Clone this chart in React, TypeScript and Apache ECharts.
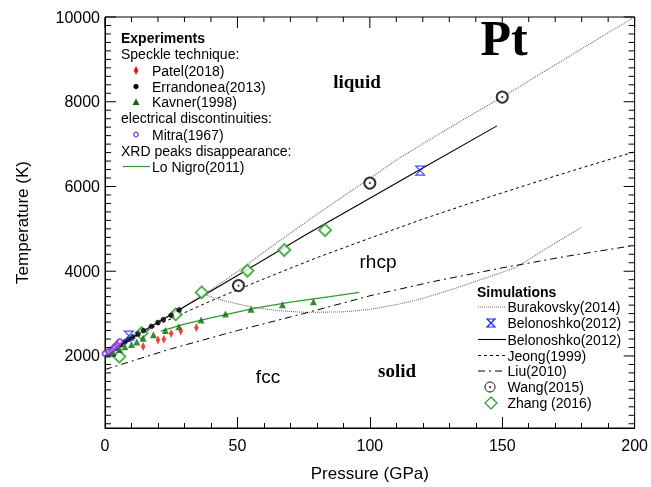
import React, { useEffect, useRef } from "react";
import * as echarts from "echarts";

// ---------- data (pressure GPa, temperature K) ----------
const BURAK_LIQ_P = [0, 10, 20, 30, 40, 50, 60, 70, 80, 90, 100, 110, 120, 130, 140, 150, 160, 170, 180, 190, 200];
const BURAK_LIQ_T = [2050, 2420, 2800, 3170, 3560, 3990, 4450, 4900, 5340, 5770, 6190, 6620, 7010, 7380, 7750, 8110, 8490, 8870, 9250, 9630, 10000];
const BURAK_SOL_P = [36.3, 45, 55, 65, 75.8, 90, 100, 111, 120, 130, 140, 155, 167, 180];
const BURAK_SOL_T = [3474, 3300, 3160, 3070, 3030, 3040, 3100, 3223, 3360, 3550, 3760, 4082, 4550, 5041];
const BELON_LINE_P = [0, 25, 50, 75, 100, 119, 148];
const BELON_LINE_T = [2050, 2980, 3900, 4830, 5720, 6400, 7430];
const JEONG_P = [0, 20, 40, 60, 80, 100, 120, 140, 160, 180, 200];
const JEONG_T = [2040, 2740, 3300, 3820, 4320, 4780, 5230, 5650, 6050, 6440, 6820];
const LIU_P = [0, 25, 50, 75, 100, 125, 150, 175, 200];
const LIU_T = [1680, 2170, 2600, 3000, 3420, 3770, 4080, 4360, 4610];
const LONIGRO_P = [21, 30, 40, 55, 70, 85, 96];
const LONIGRO_T = [2585, 2750, 2900, 3107, 3270, 3400, 3500];

const PATEL_P = [14.4, 20, 22.2, 25, 28.6, 34.5];
const PATEL_T = [2222, 2379, 2393, 2533, 2589, 2666];
const ERRAN_P = [2, 4, 6, 7.5, 9, 10.5, 12.5, 14.5, 17.5, 20, 22, 25, 28];
const ERRAN_T = [2100, 2180, 2260, 2330, 2390, 2450, 2520, 2600, 2700, 2790, 2860, 2960, 3090];
const KAVNER_P = [1, 3, 5.5, 7.5, 10, 12, 14.4, 18.3, 22.8, 27.9, 36.3, 45.5, 55.1, 67, 78.7];
const KAVNER_T = [2040, 2090, 2150, 2220, 2270, 2330, 2420, 2500, 2600, 2690, 2850, 2990, 3100, 3210, 3280];
const MITRA_P = [0, 1.5, 2.5, 3.2, 3.8, 4.5, 5, 5.6];
const MITRA_T = [2060, 2110, 2145, 2180, 2220, 2260, 2300, 2340];
const BELON_PTS_P = [9, 119];
const BELON_PTS_T = [2480, 6374];
const WANG_P = [50.4, 100, 150];
const WANG_T = [3661, 6080, 8110];
const ZHANG_P = [5.4, 13.8, 26.7, 36.5, 53.8, 67.7, 83.1];
const ZHANG_T = [1985, 2540, 2980, 3500, 4010, 4500, 4970];

const X_MIN = 0, X_MAX = 200, X_INTERVAL = 50, X_MINOR = 10;
const Y_MIN = 300, Y_MAX = 10000, Y_MAJOR = 2000, Y_MINOR = 200;

const EXP_LEGEND = ["Patel(2018)", "Errandonea(2013)", "Kavner(1998)", "Mitra(1967)", "Lo Nigro(2011)"];
const SIM_LEGEND = ["Burakovsky(2014)", "Belonoshko(2012)", "Belonoshko(2012)", "Jeong(1999)", "Liu(2010)", "Wang(2015)", "Zhang (2016)"];

const zip = (a: number[], b: number[]) => a.map((v, i) => [v, b[i]]);

const C_BURAK = "#86645d";
const C_GREEN_LINE = "#2a9d2a";
const C_KAVNER = "#0a6a0a";
const C_ZHANG = "#22a022";
const C_MITRA = "#7a2fd8";
const C_PATEL = "#ee1111";
const C_BLUE = "#1a1aff";
const SANS = "Liberation Sans, Arial, Helvetica, sans-serif";
const SERIF = "Liberation Serif, Times New Roman, serif";
const HOURGLASS = "path://M0,0L10,0L0,10L10,10Z";

export default function App() {
  const ref = useRef<HTMLDivElement>(null);
  useEffect(() => {
    if (!ref.current) return;
    const chart = echarts.init(ref.current, null, { renderer: "svg" });

    // tick positions (axis decoration)
    const yTicks: number[][] = [];
    for (let v = 400; v <= Y_MAX; v += Y_MINOR) yTicks.push([X_MIN, v, v % Y_MAJOR === 0 ? 1 : 0]);
    const xTicks: number[][] = [];
    for (let v = X_MIN; v <= X_MAX; v += X_MINOR) xTicks.push([v, Y_MAX, v % X_INTERVAL === 0 ? 1 : 0]);

    const txt = (x: number, y: number, s: string, extra: any = {}) => ({
      type: "text",
      x,
      y,
      style: { text: s, fill: "#000", font: `14px ${SANS}`, textVerticalAlign: "middle", textAlign: "left", ...extra },
      z: 100,
    });
    const hline = (x1: number, x2: number, y: number, stroke: string, dash: any = null, w = 1) => ({
      type: "line",
      shape: { x1, y1: y, x2, y2: y },
      style: { stroke, lineWidth: w, lineDash: dash },
      z: 100,
    });

    const lx = 121, ex = 152, sx = 136;
    const ly = [38, 54, 70.5, 86.5, 102, 118, 134.5, 150.5, 166.5];
    const graphics: any[] = [
      txt(lx, ly[0], "Experiments", { font: `bold 14px ${SANS}` }),
      txt(lx, ly[1], "Speckle technique:"),
      { type: "polygon", shape: { points: [[sx, ly[2] - 4.5], [sx + 2.3, ly[2]], [sx, ly[2] + 4.5], [sx - 2.3, ly[2]]] }, style: { fill: C_PATEL }, z: 100 },
      txt(ex, ly[2], EXP_LEGEND[0]),
      { type: "circle", shape: { cx: sx, cy: ly[3], r: 2.7 }, style: { fill: "#000" }, z: 100 },
      txt(ex, ly[3], EXP_LEGEND[1]),
      { type: "polygon", shape: { points: [[sx, ly[4] - 3.5], [sx + 3.5, ly[4] + 3], [sx - 3.5, ly[4] + 3]] }, style: { fill: C_KAVNER }, z: 100 },
      txt(ex, ly[4], EXP_LEGEND[2]),
      txt(lx, ly[5], "electrical discontinuities:"),
      { type: "circle", shape: { cx: sx, cy: ly[6], r: 2.3 }, style: { fill: "#fff", stroke: C_MITRA, lineWidth: 1.2 }, z: 100 },
      txt(ex, ly[6], EXP_LEGEND[3]),
      txt(lx, ly[7], "XRD peaks disappearance:"),
      hline(123, 150, ly[8], C_GREEN_LINE, null, 1.2),
      txt(ex, ly[8], EXP_LEGEND[4]),
    ];

    const rx = 477, rtx = 507.5, rsx = 491;
    const ry = [291.5, 307, 323, 339.5, 355.5, 371, 387, 403];
    graphics.push(
      txt(rx, ry[0], "Simulations", { font: `bold 14px ${SANS}` }),
      hline(478, 506, ry[1], C_BURAK, [1, 1], 1),
      txt(rtx, ry[1], SIM_LEGEND[0]),
      { type: "polygon", shape: { points: [[rsx - 4, ry[2] - 4], [rsx + 4, ry[2] - 4], [rsx - 4, ry[2] + 4], [rsx + 4, ry[2] + 4]] }, style: { fill: "none", stroke: C_BLUE, lineWidth: 1.2 }, z: 100 },
      txt(rtx, ry[2], SIM_LEGEND[1]),
      hline(478, 506, ry[3], "#000", null, 1.1),
      txt(rtx, ry[3], SIM_LEGEND[2]),
      hline(478, 506, ry[4], "#000", [3, 3], 1),
      txt(rtx, ry[4], SIM_LEGEND[3]),
      hline(478, 506, ry[5], "#000", [7, 4, 2, 4], 1),
      txt(rtx, ry[5], SIM_LEGEND[4]),
      { type: "circle", shape: { cx: rsx - 1, cy: ry[6], r: 5 }, style: { fill: "#fff", stroke: "#000", lineWidth: 1 }, z: 100 },
      { type: "circle", shape: { cx: rsx - 1, cy: ry[6], r: 0.9 }, style: { fill: "#000" }, z: 101 },
      txt(rtx, ry[6], SIM_LEGEND[5]),
      { type: "polygon", shape: { points: [[rsx, ry[7] - 6], [rsx + 6, ry[7]], [rsx, ry[7] + 6], [rsx - 6, ry[7]]] }, style: { fill: "none", stroke: C_ZHANG, lineWidth: 1.2 }, z: 100 },
      txt(rtx, ry[7], SIM_LEGEND[6]),
      txt(504, 38, "Pt", { font: `bold 50px ${SERIF}`, textAlign: "center" }),
      txt(357, 81.5, "liquid", { font: `bold 19px ${SERIF}`, textAlign: "center" }),
      txt(378, 261.5, "rhcp", { font: `19px ${SANS}`, textAlign: "center" }),
      txt(268, 376.5, "fcc", { font: `19px ${SANS}`, textAlign: "center" }),
      txt(397, 370.5, "solid", { font: `bold 19px ${SERIF}`, textAlign: "center" })
    );

    const lineS = (data: number[][], color: string, type: any, width = 1, z = 2) => ({
      type: "line",
      data,
      symbol: "none",
      lineStyle: { color, type, width },
      z,
    });
    const scat = (data: number[][], symbol: string, size: any, itemStyle: any, z = 5) => ({
      type: "scatter",
      data,
      symbol,
      symbolSize: size,
      itemStyle,
      z,
    });
    const tickSeries = (data: number[][], make: (api: any) => any) => ({
      type: "custom",
      data,
      z: 10,
      renderItem: (params: any, api: any) => make(api),
    });

    chart.setOption({
      animation: false,
      grid: { left: 105, right: 14, top: 17, bottom: 55, show: true, borderColor: "#000", borderWidth: 1, backgroundColor: "transparent" },
      xAxis: {
        type: "value",
        min: X_MIN,
        max: X_MAX,
        interval: X_INTERVAL,
        axisLine: { show: true, onZero: false, lineStyle: { color: "#000" } },
        splitLine: { show: false },
        axisTick: { show: true, inside: true, length: 11, lineStyle: { color: "#000", width: 1 } },
        minorTick: { show: true, splitNumber: 5, length: 5, lineStyle: { color: "#000", width: 1 } },
        axisLabel: { fontSize: 16, color: "#000", margin: 9, fontFamily: SANS },
        name: "Pressure (GPa)",
        nameLocation: "middle",
        nameGap: 37,
        nameTextStyle: { fontSize: 17, color: "#000", fontFamily: SANS },
      },
      yAxis: {
        type: "value",
        min: Y_MIN,
        max: Y_MAX,
        splitNumber: 5,
        axisLine: { show: true, onZero: false, lineStyle: { color: "#000" } },
        splitLine: { show: false },
        axisTick: { show: false },
        axisLabel: {
          fontSize: 16,
          color: "#000",
          margin: 5,
          fontFamily: SANS,
          formatter: (v: number) => (v % Y_MAJOR === 0 ? String(v) : ""),
        },
        name: "Temperature (K)",
        nameLocation: "middle",
        nameGap: 74,
        nameTextStyle: { fontSize: 17, color: "#000", fontFamily: SANS },
      },
      graphic: { elements: graphics },
      series: [
        tickSeries(yTicks, (api) => {
          const len = api.value(2) ? 11 : 6;
          const p = api.coord([X_MIN, api.value(1)]);
          return { type: "line", shape: { x1: p[0], y1: p[1], x2: p[0] + len, y2: p[1] }, style: { stroke: "#000", lineWidth: 1 } };
        }),
        tickSeries(yTicks, (api) => {
          const len = api.value(2) ? 11 : 6;
          const p = api.coord([X_MAX, api.value(1)]);
          return { type: "line", shape: { x1: p[0] - len, y1: p[1], x2: p[0], y2: p[1] }, style: { stroke: "#000", lineWidth: 1 } };
        }),
        tickSeries(xTicks, (api) => {
          const len = api.value(2) ? 11 : 5;
          const p = api.coord([api.value(0), Y_MAX]);
          return { type: "line", shape: { x1: p[0], y1: p[1], x2: p[0], y2: p[1] + len }, style: { stroke: "#000", lineWidth: 1 } };
        }),
        lineS(zip(BURAK_LIQ_P, BURAK_LIQ_T), C_BURAK, [1, 1], 1.1),
        lineS(zip(BURAK_SOL_P, BURAK_SOL_T), C_BURAK, [1, 1], 1.1),
        lineS(zip(BELON_LINE_P, BELON_LINE_T), "#000", "solid", 1.1),
        lineS(zip(JEONG_P, JEONG_T), "#000", [3, 3], 1),
        lineS(zip(LIU_P, LIU_T), "#000", [7, 4, 2, 4], 1),
        lineS(zip(LONIGRO_P, LONIGRO_T), C_GREEN_LINE, "solid", 1.2),
        scat(zip(ZHANG_P, ZHANG_T), "emptyDiamond", 12, { color: C_ZHANG, borderColor: C_ZHANG, borderWidth: 1.2 }, 4),
        scat(zip(WANG_P, WANG_T), "emptyCircle", 11, { color: "#000", borderColor: "#000", borderWidth: 0.9 }, 4),
        scat(zip(WANG_P, WANG_T), "circle", 2, { color: "#000" }, 6),
        scat(zip(KAVNER_P, KAVNER_T), "triangle", 7, { color: C_KAVNER }, 5),
        scat(zip(ERRAN_P, ERRAN_T), "circle", 5.5, { color: "#000" }, 5),
        scat(zip(PATEL_P, PATEL_T), "diamond", [4.5, 9], { color: C_PATEL }, 5),
        scat(zip(MITRA_P, MITRA_T), "emptyCircle", 5, { color: C_MITRA, borderColor: C_MITRA, borderWidth: 1.3 }, 6),
        scat(zip(BELON_PTS_P, BELON_PTS_T), HOURGLASS, 9, { color: "rgba(0,0,0,0)", borderColor: C_BLUE, borderWidth: 1.2 }, 6),
      ],
    });

    return () => chart.dispose();
  }, []);
  return <div ref={ref} style={{ position: "fixed", left: 0, top: 0, width: 651, height: 487 }} />;
}
